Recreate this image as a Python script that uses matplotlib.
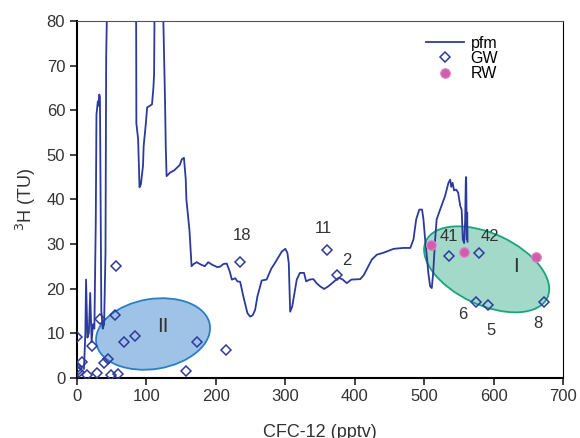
import matplotlib
matplotlib.use("Agg")
import matplotlib.pyplot as plt
from matplotlib.patches import Ellipse
import matplotlib.transforms as mtransforms

plt.rcParams['font.family'] = ['Liberation Sans', 'DejaVu Sans']

# pfm curve (CFC-12 pptv, 3H TU)
pfm_x = [10, 12, 13, 15, 17, 19, 21, 23, 25, 27, 28, 30, 31, 32, 33, 34, 35, 37, 39,
         41, 42, 44, 65, 85, 85.5, 88, 90, 92, 95, 96, 99, 101, 108, 110, 111, 112,
         118, 123, 126.8, 127.8, 129, 134, 140, 148, 151, 154, 156.6, 157.5, 160, 162,
         165, 168, 172.5, 178, 184, 189, 195, 202, 206, 211, 215.7, 220, 223, 228, 231,
         235, 239.6, 245.4, 249.3, 253, 256.5, 259.8, 266, 273, 280, 285, 295, 300,
         303, 305, 307, 310, 316.5, 321, 327, 330, 335, 340.5, 345, 350, 356, 362, 369,
         376.5, 382, 388.6, 395, 408, 413, 417, 424.6, 432, 441, 456, 470, 480, 484.6,
         488.5, 493, 497, 499, 501.4, 504, 506, 508.6, 511, 513, 515.8, 518, 523, 530,
         535, 537.5, 539, 541, 543, 546, 549, 552, 554, 555.7, 557.6, 559, 560, 560.5,
         561.5, 562, 562.5]
pfm_y = [2, 10, 22, 9, 10, 19, 8, 12, 11, 35, 59, 62, 61, 63.5, 63, 40, 15, 11, 12,
         28, 72, 90, 150, 90, 57, 53.5, 42.7, 43.4, 47.5, 52, 56.8, 60.6, 61.3, 65, 68, 90,
         130, 90, 61.8, 52, 45.2, 46, 46.5, 47.7, 49, 49.3, 44.5, 40, 36, 33,
         25, 25.5, 25.9, 25.4, 25, 25.9, 25.3, 24.8, 24.9, 25.5, 25.6, 23.8, 22, 22.3, 21.6,
         21.5, 18.2, 14.5, 13.7, 14, 15.2, 18.2, 21.8, 22, 24.5, 25.7, 28.3, 28.9,
         28, 25.7, 14.8, 16, 22, 23.5, 23.5, 21.6, 22, 22.1, 21.2, 20.5, 19.9, 20.5, 21.4,
         22.4, 22.1, 21.2, 22, 22.1, 23, 24.2, 26.5, 27.6, 28, 28.9, 29.1, 29.1, 31,
         35.5, 37.7, 37.7, 35.5, 31, 27, 23.5, 20.5, 20.1, 23.5, 31, 35.5, 37.7, 40.7,
         43.7, 44.4, 42.8, 43.7, 42, 42.2, 41.5, 38.5, 37.7, 31, 30.2, 35, 44.4, 45,
         31, 37, 30.5]

# groundwater samples
gw_x = [0.5, 56, 55, 33, 21, 7, 0.5, 0, 2.4, 15, 28.5, 39, 44, 48.5, 59.5, 68, 83.6,
        157, 172.5, 214.7, 235, 360.7, 375, 536.5, 579.3, 575, 591.3, 672]
gw_y = [9.1, 25.1, 14.1, 13.1, 7, 3.6, 2.2, 1.4, 1.3, 0.5, 1, 3.2, 4.1, 0.5, 0.8, 7.9, 9.4,
        1.6, 7.9, 6.2, 25.9, 28.6, 23.1, 27.4, 28, 17, 16.3, 16.9]

# river water samples
rw_x = [509.6, 558, 661.4]
rw_y = [29.7, 28.3, 27.1]

# sample labels
lab_text = ["18", "11", "2", "41", "42", "6", "5", "8"]
lab_x = [237, 355, 388, 535, 595, 556, 597, 664]
lab_y = [32, 33.5, 26.3, 31.7, 31.7, 14.1, 10.6, 12.1]

fig = plt.figure(figsize=(5.8, 4.38), dpi=100)
ax = fig.add_axes([0.1328, 0.1377, 0.8379, 0.8144])

# group ellipses (sizes in inches, centre in data)
groups = [
    ("I", 590, 24.3, 1.34, 0.714, -25, "#a3d9c8", "#19a57c", 632, 25),
    ("II", 109.5, 9.8, 1.15, 0.70, 9.3, "#9fc3e7", "#2a7fc4", 123.5, 11.5),
]
for name, cx, cy, w, h, ang, fc, ec, tx, ty in groups:
    tr = fig.dpi_scale_trans + mtransforms.ScaledTranslation(cx, cy, ax.transData)
    ax.add_patch(Ellipse((0, 0), w, h, angle=ang, transform=tr,
                         facecolor=fc, edgecolor=ec, lw=1.3, zorder=1))
    ax.text(tx, ty, name, fontsize=15, color="#333333", ha="center", va="center", zorder=5)

ax.plot(pfm_x, pfm_y, color="#2b3a9b", lw=1.3, label="pfm", zorder=2)
ax.plot(gw_x, gw_y, ls="none", marker="D", ms=5.2, mfc="none", mec="#2e3aa0",
        mew=1.1, label="GW", zorder=3)
ax.plot(rw_x, rw_y, ls="none", marker="o", ms=7, mfc="#cf5fae", mec="#e08ac4",
        mew=0.8, label="RW", zorder=4)

for t, x, y in zip(lab_text, lab_x, lab_y):
    ax.text(x, y, t, fontsize=12, color="#333333", ha="center", va="center")

ax.set_xlim(0, 700)
ax.set_ylim(0, 80)
ax.set_xticks(range(0, 701, 100))
ax.set_yticks(range(0, 81, 10))
ax.tick_params(direction="out", length=5, width=1.3, labelsize=12, colors="#333333",
               top=False, right=False)
for s in ["left", "bottom"]:
    ax.spines[s].set_linewidth(1.5)
ax.spines["top"].set_color("#555555")
ax.set_xlabel("CFC-12 (pptv)", fontsize=13, color="#333333", labelpad=14)
ax.set_ylabel("$^3$H (TU)", fontsize=13, color="#333333", labelpad=6)

ax.legend(loc="upper right", bbox_to_anchor=(0.89, 0.99), frameon=False, fontsize=11.5,
          handlelength=2.4, handletextpad=0.4, labelspacing=0.02, borderpad=0.2)

fig.savefig("out.png", dpi=100)
